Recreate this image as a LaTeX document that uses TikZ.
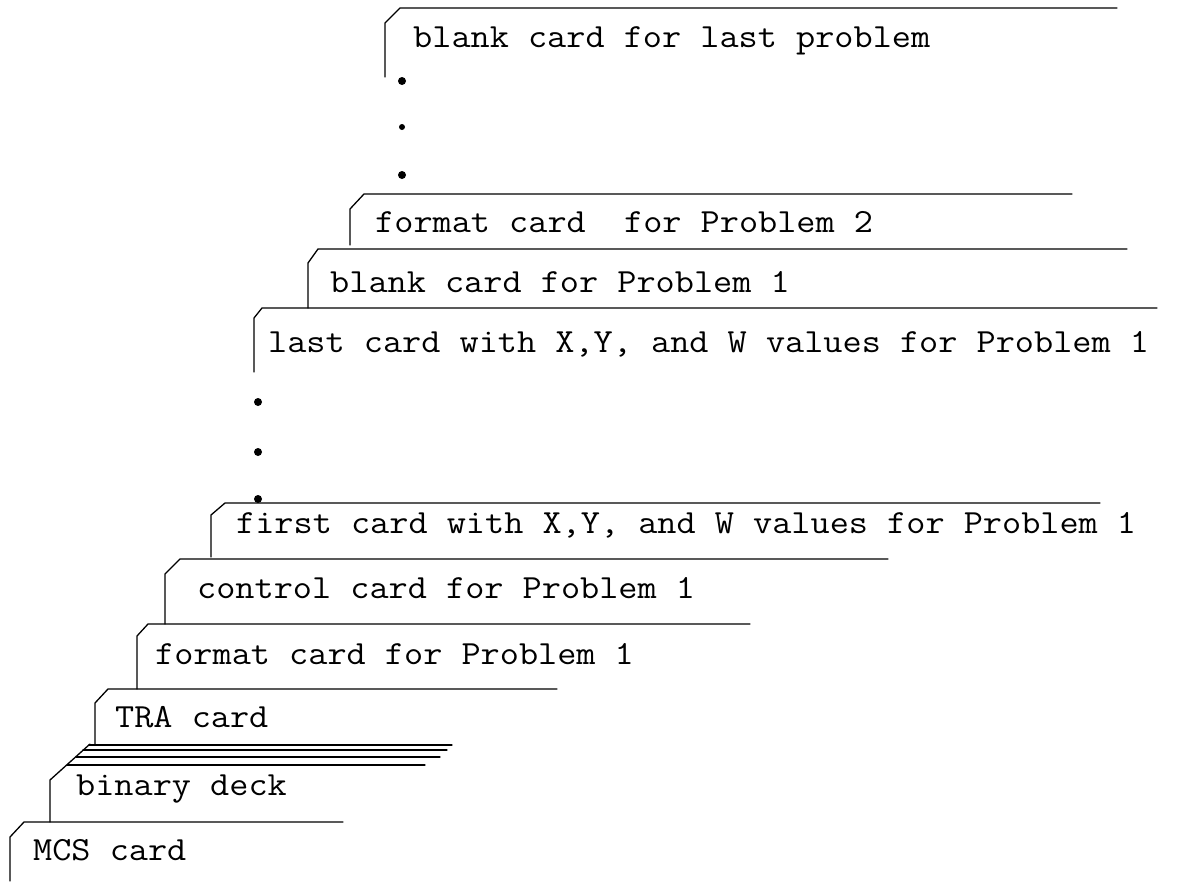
\documentclass[tikz,border=0pt]{standalone}
\usepackage{graphicx}
\tikzset{
  card/.style={line width=1.3pt, line join=round, line cap=round},
  lbl/.style={anchor=base west, inner sep=0pt, font=\fontsize{33.8}{40}\selectfont\ttfamily},
  dotmark/.style={fill=black}
}
\newcommand{\tw}[1]{\scalebox{1.1}[1]{#1}}
\begin{document}
\begin{tikzpicture}[x=1pt,y=-1pt]
\useasboundingbox (0,0) rectangle (1204,881);
% blank card for last problem
\draw[card] (385,77) -- (385,23) -- (400,8) -- (1117,8);
\node[lbl] (c1) at (413,47) {\tw{blank card for last problem}};
\fill[dotmark] (402,81) circle (4pt);
\fill[dotmark] (402,127) circle (3pt);
\fill[dotmark] (402,175) circle (4pt);
% format card for Problem 2
\draw[card] (350,245) -- (350,209) -- (364,194) -- (1072,194);
\node[lbl] (c2) at (375,232) {\tw{format card\ \ for Problem 2}};
% blank card for Problem 1
\draw[card] (308,308) -- (308,263) -- (318,249) -- (1127,249);
\node[lbl] (c3) at (330,292) {\tw{blank card for Problem 1}};
% last card
\draw[card] (254,372) -- (254,318) -- (262,308) -- (1157,308);
\node[lbl] (c4) at (268,352) {\tw{last card with X,Y, and W values for Problem 1}};
\fill[dotmark] (258,402) circle (4pt);
\fill[dotmark] (258,452) circle (4pt);
\fill[dotmark] (258,499) circle (4pt);
% first card
\draw[card] (211,557) -- (211,515) -- (225,503) -- (1100,503);
\node[lbl] (c5) at (236,533) {\tw{first card with X,Y, and W values for Problem 1}};
% control card
\draw[card] (165,624) -- (165,574) -- (180,559) -- (888,559);
\node[lbl] (c6) at (197,598) {\tw{control card for Problem 1}};
% format card for Problem 1
\draw[card] (137,689) -- (137,636) -- (148,624) -- (750,624);
\node[lbl] (c7) at (155,664) {\tw{format card for Problem 1}};
% TRA card
\draw[card] (95,745) -- (95,703) -- (108,689) -- (557,689);
\node[lbl] (c8) at (115,727) {\tw{TRA card}};
% binary deck
\draw[card] (50,822) -- (50,780) -- (90,744);
\draw[card] (89,745) -- (452,745);
\draw[card] (83,750) -- (447,750);
\draw[card] (76,757) -- (440,757);
\draw[card] (67,765) -- (425,765);
\node[lbl] (c9) at (76,795) {\tw{binary deck}};
% MCS card
\draw[card] (10,881) -- (10,837) -- (24,822) -- (343,822);
\node[lbl] (c10) at (33,860) {\tw{MCS card}};
\end{tikzpicture}
\end{document}
